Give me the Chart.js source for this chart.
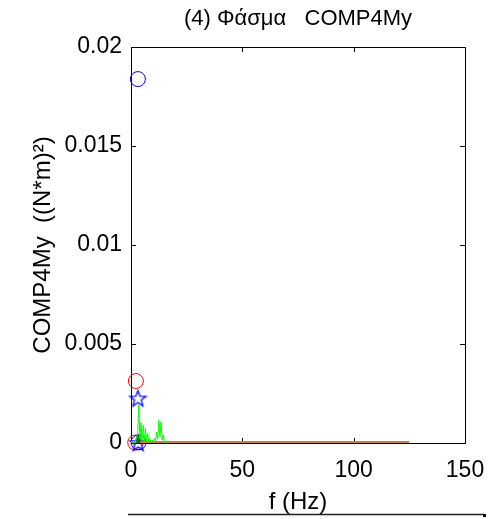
<!DOCTYPE html>
<html>
<head>
<meta charset="utf-8">
<script src="https://cdn.jsdelivr.net/npm/chart.js@4"></script>
<style>
    html, body { margin: 0; padding: 0; background: #ffffff; }
    #wrap { width: 492px; height: 519px; position: relative; }
</style>
</head>
<body>
<div id="wrap"><canvas id="specChart"></canvas></div>
<script>
// spectrum (green), Hz / (N*m)^2
const greenFreq = [0, 0.5, 1, 1.5, 2, 2.5, 3, 3.5, 4, 4.5, 5, 5.5, 6, 6.5, 7, 7.5, 8, 8.5, 9, 9.5, 10, 10.5, 11, 11.5, 12, 12.5, 13, 13.5, 14, 14.5, 15, 15.5, 16];
const greenVals = [0, 0, 0.00005, 0.00002, 0.0001, 0.0003, 0.0004, 0.00193, 0.0002, 0.00103, 0.00012, 0.00089, 0.0001, 0.00072, 0.00005, 0.00047, 0.00004, 0.0002, 0.00004, 0.00015, 0.00004, 0.00022, 0.0001, 0.00056, 0.0002, 0.00115, 0.0003, 0.00106, 0.00015, 0.0004, 0.00005, 0.0001, 0];

// dark green stub near the origin
const darkFreq = [3.3, 3.3];
const darkVals = [0, 0.00042];

// brown baseline spectrum
const brownFreq = [0, 25, 50, 75, 100, 125];
const brownVals = [0.00004, 0.00004, 0.00004, 0.00004, 0.00004, 0.00004];

// peak markers
const blueCircleFreq = [3.1, 3.4];
const blueCircleVals = [0.01838, 0.00003];
const redCircleFreq = [2.2, 1.9];
const redCircleVals = [0.00313, 0.00002];
const blueStarFreq = [3.1, 3.2];
const blueStarVals = [0.00227, 0.00002];

const xTicks = [0, 50, 100, 150];
const yTicks = [0, 0.005, 0.01, 0.015, 0.02];

const titleText = '(4) Φάσμα   COMP4My';
const xLabel = 'f (Hz)';
const yLabel = 'COMP4My  ((N*m)²)';

function pairs(xs, ys) {
    return xs.map((x, i) => ({ x: x, y: ys[i] }));
}

function makeStar(r, color) {
    const c = document.createElement('canvas');
    const s = Math.ceil(r * 2 + 4);
    c.width = s;
    c.height = s;
    const g = c.getContext('2d');
    g.strokeStyle = color;
    g.lineWidth = 1.3;
    g.beginPath();
    for (let i = 0; i < 10; i++) {
        const rr = i % 2 === 0 ? r : r * 0.42;
        const a = -Math.PI / 2 + i * Math.PI / 5;
        const px = s / 2 + rr * Math.cos(a);
        const py = s / 2 + rr * Math.sin(a) + 1;
        if (i === 0) g.moveTo(px, py); else g.lineTo(px, py);
    }
    g.closePath();
    g.stroke();
    return c;
}

document.addEventListener('DOMContentLoaded', function() {
    const ctx = document.getElementById('specChart').getContext('2d');
    const font = "'Liberation Sans', Arial, sans-serif";

    const frameLines = {
        id: 'frameLines',
        beforeDatasetsDraw(chart) {
            const a = chart.chartArea;
            const g = chart.ctx;
            const xs = chart.scales.x;
            const ys = chart.scales.y;
            g.save();
            g.strokeStyle = '#000000';
            g.lineWidth = 1;
            g.strokeRect(a.left + 0.5, a.top + 0.5, a.right - a.left, a.bottom - a.top);
            g.beginPath();
            xTicks.forEach(v => {
                const px = Math.round(xs.getPixelForValue(v)) + 0.5;
                g.moveTo(px, a.bottom); g.lineTo(px, a.bottom - 5);
                g.moveTo(px, a.top); g.lineTo(px, a.top + 5);
            });
            yTicks.forEach(v => {
                const py = Math.round(ys.getPixelForValue(v)) + 0.5;
                g.moveTo(a.left, py); g.lineTo(a.left + 5, py);
                g.moveTo(a.right, py); g.lineTo(a.right - 5, py);
            });
            g.stroke();
            g.restore();
        },
        afterDraw(chart) {
            const a = chart.chartArea;
            const g = chart.ctx;
            g.save();
            // title, centred over the axes
            g.fillStyle = '#000000';
            g.font = '22px ' + font;
            g.textAlign = 'center';
            g.textBaseline = 'middle';
            g.fillText(titleText, (a.left + a.right) / 2, 19);
            // top border of the next panel, cut off by the picture
            g.strokeStyle = '#222222';
            g.lineWidth = 1.5;
            g.beginPath();
            g.moveTo(128, 514.5);
            g.lineTo(484, 514.5);
            g.stroke();
            g.fillRect(483, 514, 3, 3);
            g.restore();
        }
    };

    new Chart(ctx, {
        type: 'scatter',
        data: {
            datasets: [
                {
                    label: 'green',
                    data: pairs(greenFreq, greenVals),
                    showLine: true,
                    borderColor: '#00ff00',
                    borderWidth: 1,
                    pointRadius: 0
                },
                {
                    label: 'darkgreen',
                    data: pairs(darkFreq, darkVals),
                    showLine: true,
                    borderColor: '#007f00',
                    borderWidth: 4,
                    pointRadius: 0
                },
                {
                    label: 'brown',
                    data: pairs(brownFreq, brownVals),
                    showLine: true,
                    borderColor: '#c8803c',
                    borderWidth: 2.5,
                    pointRadius: 0
                },
                {
                    label: 'blue circles',
                    data: pairs(blueCircleFreq, blueCircleVals),
                    pointStyle: 'circle',
                    pointRadius: 7.5,
                    borderColor: '#0000ff',
                    backgroundColor: 'rgba(0,0,0,0)',
                    borderWidth: 1,
                    clip: false
                },
                {
                    label: 'red circles',
                    data: pairs(redCircleFreq, redCircleVals),
                    pointStyle: 'circle',
                    pointRadius: 7.5,
                    borderColor: '#ff0000',
                    backgroundColor: 'rgba(0,0,0,0)',
                    borderWidth: 1,
                    clip: false
                },
                {
                    label: 'blue stars',
                    data: pairs(blueStarFreq, blueStarVals),
                    pointStyle: makeStar(8.5, '#0000ff'),
                    clip: false
                }
            ]
        },
        options: {
            responsive: true,
            maintainAspectRatio: false,
            animation: false,
            events: [],
            layout: { padding: { left: 0, right: 27, top: 47, bottom: 0 } },
            plugins: {
                legend: { display: false },
                tooltip: { enabled: false },
                title: { display: false }
            },
            scales: {
                x: {
                    type: 'linear',
                    min: 0,
                    max: 150,
                    afterFit: s => { s.height = 76; s.paddingLeft = 0; s.paddingRight = 0; },
                    afterBuildTicks: s => { s.ticks = xTicks.map(v => ({ value: v })); },
                    grid: { display: false, drawTicks: false },
                    border: { display: false },
                    ticks: {
                        color: '#000000',
                        padding: 14,
                        maxRotation: 0,
                        font: { family: font, size: 23 }
                    },
                    title: {
                        display: true,
                        text: xLabel,
                        color: '#000000',
                        font: { family: font, size: 24, lineHeight: 1.2 },
                        padding: { top: 0, bottom: 2 }
                    }
                },
                y: {
                    type: 'linear',
                    min: 0,
                    max: 0.02,
                    afterFit: s => { s.width = 131; s.paddingTop = 0; s.paddingBottom = 0; },
                    afterBuildTicks: s => { s.ticks = yTicks.map(v => ({ value: v })); },
                    grid: { display: false, drawTicks: false },
                    border: { display: false },
                    ticks: {
                        color: '#000000',
                        padding: 9,
                        font: { family: font, size: 23 },
                        callback: v => String(+v.toFixed(3))
                    },
                    title: {
                        display: true,
                        text: yLabel,
                        color: '#000000',
                        font: { family: font, size: 24, lineHeight: 1.2 },
                        padding: { top: 29, bottom: 0 }
                    }
                }
            }
        },
        plugins: [frameLines]
    });
});
</script>
</body>
</html>
